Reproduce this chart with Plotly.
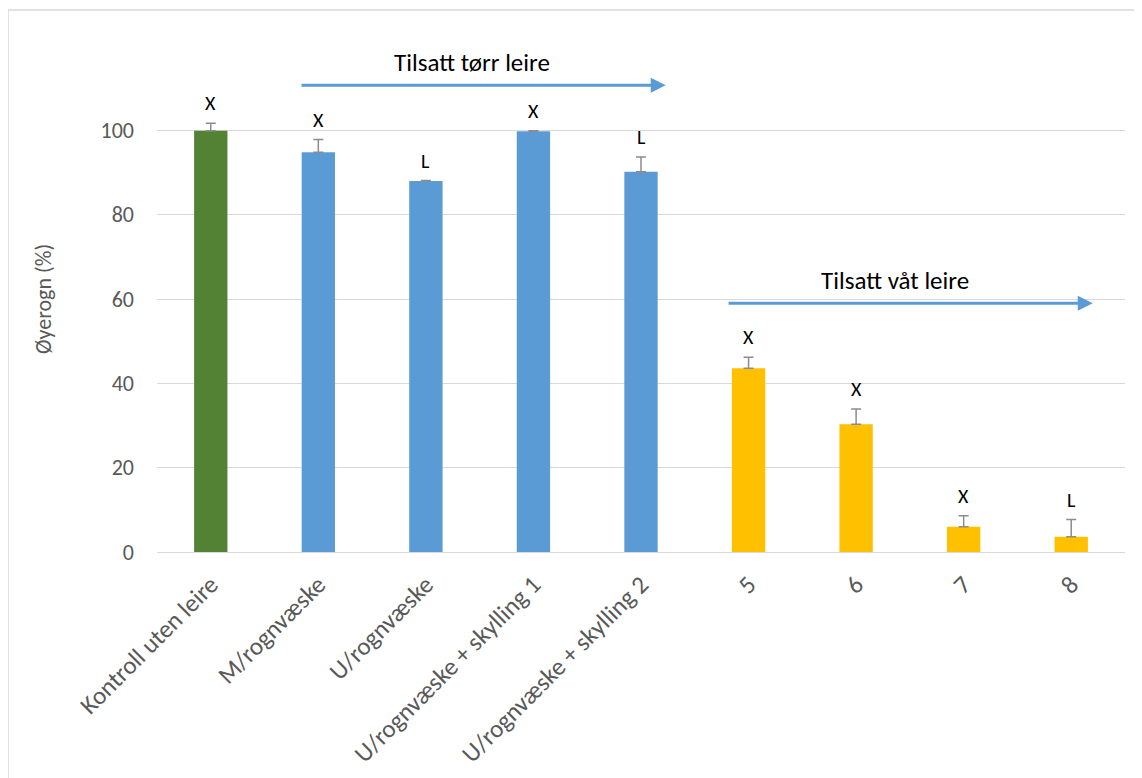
import plotly.graph_objects as go

categories = ["Kontroll uten leire", "M/rognvæske", "U/rognvæske",
              "U/rognvæske + skylling 1", "U/rognvæske + skylling 2",
              "5", "6", "7", "8"]
values = [99.9, 94.8, 88.0, 99.8, 90.2, 43.6, 30.3, 6.0, 3.6]
errors = [1.8, 3.0, 0.1, 0.1, 3.5, 2.6, 3.6, 2.6, 4.1]
letters = ["X", "X", "L", "X", "L", "X", "X", "X", "L"]
colors = ["#548235"] + ["#5B9BD5"] * 4 + ["#FFC000"] * 4
y_ticks = [0, 20, 40, 60, 80, 100]

FONT = "Carlito, Lato, 'Open Sans', sans-serif"
x = list(range(len(categories)))

fig = go.Figure()
fig.add_trace(go.Bar(
    x=x, y=values, marker=dict(color=colors, line=dict(width=0)),
    error_y=dict(type="data", array=errors, symmetric=False, arrayminus=[0]*len(errors),
                 color="#8C8C8C", thickness=1.5, width=5),
    showlegend=False, hoverinfo="skip",
))

annotations = []
for i, (v, e, t) in enumerate(zip(values, errors, letters)):
    annotations.append(dict(x=i, y=v + e, text=t, showarrow=False, yanchor="bottom",
                            yshift=6, font=dict(size=20, color="#000000", family=FONT)))

# group arrows
annotations.append(dict(x=4.23, y=110.7, ax=0.83, ay=110.7, axref="x", ayref="y",
                        xref="x", yref="y", text="", showarrow=True, arrowhead=2,
                        arrowsize=1, arrowwidth=3, arrowcolor="#5B9BD5"))
annotations.append(dict(x=2.43, y=116.0, text="Tilsatt tørr leire", showarrow=False,
                        font=dict(size=25, color="#000000", family=FONT)))
annotations.append(dict(x=8.2, y=59.0, ax=4.80, ay=59.0, axref="x", ayref="y",
                        xref="x", yref="y", text="", showarrow=True, arrowhead=2,
                        arrowsize=1, arrowwidth=3, arrowcolor="#5B9BD5"))
annotations.append(dict(x=6.36, y=64.3, text="Tilsatt våt leire", showarrow=False,
                        font=dict(size=25, color="#000000", family=FONT)))

fig.update_layout(
    width=1142, height=778,
    margin=dict(l=149, r=25, t=38, b=234),
    paper_bgcolor="white", plot_bgcolor="white",
    bargap=0.69,
    font=dict(family=FONT, color="#595959", size=22),
    xaxis=dict(tickmode="array", tickvals=x, ticktext=categories, tickangle=-45,
               range=[-0.5, 8.5], showgrid=False, zeroline=False, showline=False,
               ticks="", ticklabelstandoff=12, tickfont=dict(size=25, color="#595959")),
    yaxis=dict(range=[0, 120], tickvals=y_ticks, showgrid=True, gridcolor="#D9D9D9",
               gridwidth=1, zeroline=True, zerolinecolor="#D9D9D9", zerolinewidth=1,
               showline=False, ticks="", ticklen=0, ticklabelstandoff=22,
               tickfont=dict(size=22, color="#595959"),
               title=dict(text="Øyerogn (%)", font=dict(size=22, color="#595959"), standoff=42)),
    annotations=annotations,
    shapes=[dict(type="rect", xref="paper", yref="paper",
                 x0=-0.1539, x1=1.03, y0=-0.47, y1=1.0711,
                 line=dict(color="#D9D9D9", width=1.5), fillcolor="rgba(0,0,0,0)", layer="below")],
)

fig.write_html("out.html")
